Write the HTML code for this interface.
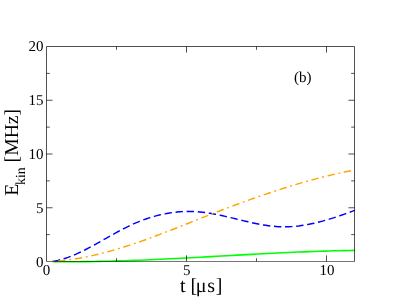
<!DOCTYPE html>
<html lang="en"><head><meta charset="utf-8"><title>chart</title><style>
html,body{margin:0;padding:0;background:#fff;}
svg{display:block;will-change:transform;}
text{font-family:"Liberation Serif",serif;fill:#000;text-rendering:geometricPrecision;}
</style></head><body>
<svg width="399" height="308" viewBox="0 0 399 308">
<rect width="399" height="308" fill="#fff"/>
<g fill="none" stroke-linecap="butt" stroke-linejoin="round">
<path d="M52.80 261.60 L57.92 261.66 L63.03 261.69 L68.15 261.70 L73.26 261.70 L78.38 261.68 L83.49 261.64 L88.61 261.59 L93.72 261.51 L98.84 261.42 L103.95 261.31 L109.07 261.19 L114.18 261.06 L119.30 260.91 L124.41 260.74 L129.53 260.57 L134.64 260.38 L139.76 260.18 L144.87 259.97 L149.99 259.76 L155.11 259.53 L160.22 259.29 L165.34 259.05 L170.45 258.80 L175.57 258.54 L180.68 258.28 L185.80 258.01 L190.91 257.74 L196.03 257.46 L201.14 257.18 L206.26 256.89 L211.37 256.61 L216.49 256.32 L221.60 256.03 L226.72 255.75 L231.83 255.46 L236.95 255.17 L242.06 254.89 L247.18 254.61 L252.29 254.33 L257.41 254.05 L262.53 253.78 L267.64 253.52 L272.76 253.26 L277.87 253.00 L282.99 252.76 L288.10 252.52 L293.22 252.29 L298.33 252.07 L303.45 251.85 L308.56 251.65 L313.68 251.46 L318.79 251.28 L323.91 251.11 L329.02 250.96 L334.14 250.82 L339.25 250.69 L344.37 250.58 L349.48 250.48 L354.60 250.40" stroke="#00ff00" stroke-width="1.6"/>
<path d="M52.80 261.32 L55.34 260.89 L57.87 260.36 L60.41 259.73 L62.94 259.02 L65.48 258.23 L68.02 257.36 L70.55 256.41 L73.09 255.40 L75.63 254.32 L78.16 253.19 L80.70 252.00 L83.23 250.77 L85.77 249.49 L88.31 248.17 L90.84 246.82 L93.38 245.45 L95.91 244.05 L98.45 242.63 L100.99 241.20 L103.52 239.76 L106.06 238.32 L108.59 236.88 L111.13 235.45 L113.67 234.03 L116.20 232.63 L118.74 231.25 L121.28 229.90 L123.81 228.58 L126.35 227.29 L128.88 226.05 L131.42 224.86 L133.96 223.71 L136.49 222.62 L139.03 221.57 L141.56 220.58 L144.10 219.63 L146.64 218.74 L149.17 217.89 L151.71 217.10 L154.25 216.36 L156.78 215.67 L159.32 215.03 L161.85 214.44 L164.39 213.91 L166.93 213.42 L169.46 212.99 L172.00 212.62 L174.53 212.29 L177.07 212.02 L179.61 211.80 L182.14 211.63 L184.68 211.52 L187.22 211.46 L189.75 211.45 L192.29 211.50 L194.82 211.61 L197.36 211.76 L199.90 211.97 L202.43 212.24 L204.97 212.55 L207.50 212.91 L210.04 213.31 L212.58 213.74 L215.11 214.21 L217.65 214.71 L220.18 215.24 L222.72 215.79 L225.26 216.37 L227.79 216.96 L230.33 217.56 L232.87 218.17 L235.40 218.78 L237.94 219.40 L240.47 220.02 L243.01 220.63 L245.55 221.23 L248.08 221.82 L250.62 222.40 L253.15 222.96 L255.69 223.49 L258.23 224.00 L260.76 224.47 L263.30 224.92 L265.84 225.32 L268.37 225.69 L270.91 226.01 L273.44 226.29 L275.98 226.51 L278.52 226.68 L281.05 226.79 L283.59 226.84 L286.12 226.82 L288.66 226.75 L291.20 226.63 L293.73 226.45 L296.27 226.21 L298.81 225.93 L301.34 225.59 L303.88 225.21 L306.41 224.78 L308.95 224.31 L311.49 223.80 L314.02 223.25 L316.56 222.65 L319.09 222.02 L321.63 221.36 L324.17 220.66 L326.70 219.94 L329.24 219.18 L331.77 218.39 L334.31 217.58 L336.85 216.75 L339.38 215.89 L341.92 215.01 L344.46 214.12 L346.99 213.21 L349.53 212.28 L352.06 211.34 L354.60 210.38" stroke="#0000ff" stroke-width="1.45" stroke-dasharray="7.4 3.7"/>
<path d="M52.80 261.33 L55.34 261.17 L57.87 260.98 L60.41 260.76 L62.94 260.51 L65.48 260.23 L68.02 259.92 L70.55 259.59 L73.09 259.22 L75.63 258.83 L78.16 258.41 L80.70 257.97 L83.23 257.50 L85.77 257.01 L88.31 256.49 L90.84 255.95 L93.38 255.39 L95.91 254.81 L98.45 254.20 L100.99 253.57 L103.52 252.92 L106.06 252.25 L108.59 251.56 L111.13 250.86 L113.67 250.13 L116.20 249.39 L118.74 248.63 L121.28 247.85 L123.81 247.06 L126.35 246.25 L128.88 245.42 L131.42 244.59 L133.96 243.74 L136.49 242.87 L139.03 241.99 L141.56 241.11 L144.10 240.20 L146.64 239.29 L149.17 238.37 L151.71 237.44 L154.25 236.50 L156.78 235.55 L159.32 234.60 L161.85 233.63 L164.39 232.66 L166.93 231.69 L169.46 230.70 L172.00 229.72 L174.53 228.72 L177.07 227.73 L179.61 226.73 L182.14 225.73 L184.68 224.72 L187.22 223.72 L189.75 222.71 L192.29 221.70 L194.82 220.70 L197.36 219.69 L199.90 218.69 L202.43 217.68 L204.97 216.68 L207.50 215.69 L210.04 214.69 L212.58 213.70 L215.11 212.72 L217.65 211.73 L220.18 210.76 L222.72 209.78 L225.26 208.82 L227.79 207.85 L230.33 206.89 L232.87 205.94 L235.40 204.99 L237.94 204.05 L240.47 203.12 L243.01 202.19 L245.55 201.26 L248.08 200.35 L250.62 199.44 L253.15 198.53 L255.69 197.64 L258.23 196.75 L260.76 195.86 L263.30 194.99 L265.84 194.12 L268.37 193.26 L270.91 192.41 L273.44 191.57 L275.98 190.73 L278.52 189.91 L281.05 189.09 L283.59 188.28 L286.12 187.48 L288.66 186.69 L291.20 185.91 L293.73 185.14 L296.27 184.38 L298.81 183.63 L301.34 182.89 L303.88 182.16 L306.41 181.44 L308.95 180.73 L311.49 180.03 L314.02 179.35 L316.56 178.67 L319.09 178.01 L321.63 177.36 L324.17 176.72 L326.70 176.09 L329.24 175.47 L331.77 174.87 L334.31 174.28 L336.85 173.70 L339.38 173.13 L341.92 172.58 L344.46 172.04 L346.99 171.52 L349.53 171.01 L352.06 170.51 L354.60 170.03" stroke="#ffa500" stroke-width="1.45" stroke-dasharray="7.4 3.7 1.85 3.7" stroke-dashoffset="11.100000000000001"/>
</g>
<g stroke="#000" stroke-width="0.9" stroke-opacity="0.76" fill="none">
<path d="M46.5 261.05 L46.5 46.5 L354.5 46.5 L354.5 261.05" stroke-linejoin="miter"/>
<path d="M46.05 261.5 L354.95 261.5" stroke-opacity="0.6"/>
<line x1="186.50" y1="261.50" x2="186.50" y2="255.40"/><line x1="186.50" y1="46.50" x2="186.50" y2="52.60"/><line x1="326.50" y1="261.50" x2="326.50" y2="255.40"/><line x1="326.50" y1="46.50" x2="326.50" y2="52.60"/><line x1="116.50" y1="261.50" x2="116.50" y2="258.20"/><line x1="116.50" y1="46.50" x2="116.50" y2="49.80"/><line x1="256.50" y1="261.50" x2="256.50" y2="258.20"/><line x1="256.50" y1="46.50" x2="256.50" y2="49.80"/><line x1="46.50" y1="207.75" x2="52.60" y2="207.75"/><line x1="354.50" y1="207.75" x2="348.40" y2="207.75"/><line x1="46.50" y1="154.00" x2="52.60" y2="154.00"/><line x1="354.50" y1="154.00" x2="348.40" y2="154.00"/><line x1="46.50" y1="100.25" x2="52.60" y2="100.25"/><line x1="354.50" y1="100.25" x2="348.40" y2="100.25"/><line x1="46.50" y1="234.62" x2="49.80" y2="234.62"/><line x1="354.50" y1="234.62" x2="351.20" y2="234.62"/><line x1="46.50" y1="180.88" x2="49.80" y2="180.88"/><line x1="354.50" y1="180.88" x2="351.20" y2="180.88"/><line x1="46.50" y1="127.12" x2="49.80" y2="127.12"/><line x1="354.50" y1="127.12" x2="351.20" y2="127.12"/><line x1="46.50" y1="73.38" x2="49.80" y2="73.38"/><line x1="354.50" y1="73.38" x2="351.20" y2="73.38"/>
</g>
<text x="43.5" y="50.85" text-anchor="end" font-size="15">20</text><text x="43.5" y="104.87" text-anchor="end" font-size="15">15</text><text x="43.5" y="158.89" text-anchor="end" font-size="15">10</text><text x="43.5" y="212.91" text-anchor="end" font-size="15">5</text><text x="43.5" y="266.93" text-anchor="end" font-size="15">0</text><text x="46.50" y="275.3" text-anchor="middle" font-size="15">0</text><text x="186.80" y="275.3" text-anchor="middle" font-size="15">5</text><text x="327.00" y="275.3" text-anchor="middle" font-size="15">10</text>
<text x="180" y="291.8" font-size="20">t [<tspan dx="-1.4">μ</tspan><tspan dx="0.6">s</tspan><tspan dx="0.8">]</tspan></text>
<text transform="translate(17.6,195.8) rotate(-90)" font-size="19.7">E<tspan font-size="13.8" dy="7.8" dx="-1.2">kin</tspan><tspan dy="-7.8"> [MHz]</tspan></text>
<text x="294" y="81.7" font-size="15">(b)</text>
</svg>
</body></html>
